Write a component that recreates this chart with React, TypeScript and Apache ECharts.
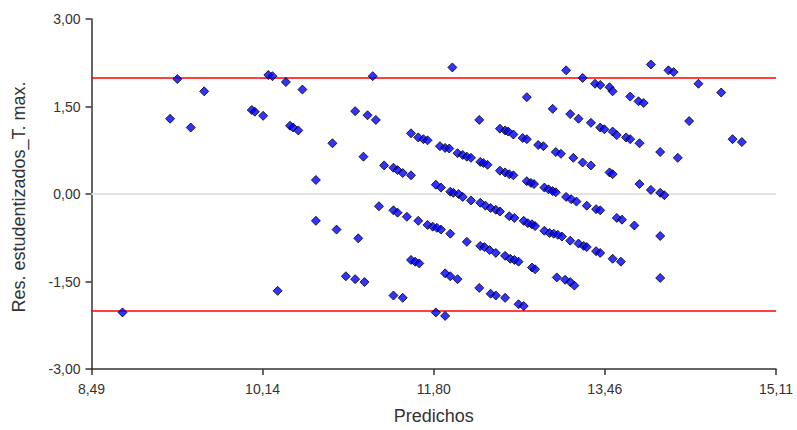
import React, { useEffect, useRef } from "react";
import * as echarts from "echarts";

const xTickValues = [8.49, 10.145, 11.8, 13.455, 15.11];
const xTickLabels = ["8,49", "10,14", "11,80", "13,46", "15,11"];
const yTickValues = [-3, -1.5, 0, 1.5, 3];
const refLinesRed = [2, -2];
const refLineZero = 0;
const xName = "Predichos";
const yName = "Res. estudentizados_T. max.";

// Predichos
const predichos = [
  8.79, 9.25, 9.32, 9.45, 9.58, 10.04, 10.07, 10.15,
  10.2, 10.24, 10.37, 10.53, 10.41, 10.44, 10.49, 10.82, 10.66,
  11.21, 11.04, 11.16, 11.24, 11.12, 11.32, 11.41, 11.45, 11.5, 11.58,
  11.58, 11.65, 11.7, 11.74,
  10.29, 10.66, 10.86, 11.07, 10.95, 11.04, 11.13,
  11.98, 13.08, 13.24, 13.36, 13.41, 12.7, 12.95, 13.12, 13.2,
  13.32, 13.41, 13.45, 12.24, 12.44, 12.49, 12.52, 12.57, 12.66, 12.7,
  12.81, 12.86, 12.98, 13.03, 13.15, 13.24, 13.32,
  11.86, 11.91, 11.95, 12.03, 12.08, 12.12, 12.16, 12.25, 12.28, 12.32,
  12.44, 12.49, 12.53, 12.57, 12.7, 12.74, 12.77,
  12.87, 12.91, 12.95, 12.98, 13.08, 13.13, 13.18, 13.28, 13.37, 13.41,
  13.57, 13.62, 13.74, 13.99,
  11.82, 11.87, 11.96, 11.99, 12.04, 12.08, 12.16, 12.25, 12.3, 12.35,
  12.4, 12.44, 12.53, 12.58, 12.67, 12.71, 12.75, 12.78, 12.87, 12.92,
  12.96, 13.0, 13.04, 13.12, 13.2, 13.25, 13.28, 13.37, 13.41, 13.53,
  13.61, 13.99,
  11.27, 11.41, 11.45, 11.54, 11.65, 11.74, 11.79, 11.83, 11.87, 11.96,
  12.12, 12.25, 12.29, 12.34, 12.4, 12.49, 12.54, 12.58, 12.62, 12.75,
  12.78, 12.99, 13.07, 13.12, 13.16,
  11.58, 11.62, 11.66, 11.91, 11.96, 12.03, 12.24, 12.35, 12.4, 12.49,
  12.62, 12.67, 11.82, 11.91, 11.41, 11.5,
  13.9, 14.07, 14.12, 14.36, 14.58, 13.5, 13.53, 13.7, 13.78, 13.83,
  14.27, 13.53, 13.57, 13.66, 13.7, 13.79, 13.99, 14.16, 14.69, 14.78,
  13.5, 13.53, 13.79, 13.9, 13.99, 14.03,
];

// Residuos estudentizados
const residuos = [
  -2.03, 1.29, 1.97, 1.14, 1.76, 1.44, 1.41, 1.34,
  2.04, 2.02, 1.92, 1.79, 1.17, 1.14, 1.09, 0.87, 0.24,
  2.02, 1.42, 1.35, 1.27, 0.64, 0.49, 0.45, 0.41, 0.36, 0.32,
  1.04, 0.97, 0.94, 0.92,
  -1.66, -0.46, -0.61, -0.76, -1.41, -1.46, -1.51,
  2.17, 2.12, 1.99, 1.89, 1.87, 1.66, 1.46, 1.37, 1.29,
  1.22, 1.14, 1.11, 1.27, 1.12, 1.09, 1.07, 1.02, 0.96, 0.94,
  0.84, 0.82, 0.72, 0.69, 0.62, 0.54, 0.49,
  0.82, 0.79, 0.78, 0.7, 0.67, 0.64, 0.62, 0.55, 0.53, 0.5,
  0.4, 0.37, 0.34, 0.32, 0.22, 0.19, 0.17,
  0.11, 0.08, 0.05, 0.03, -0.05, -0.09, -0.13, -0.2, -0.26, -0.28,
  -0.41, -0.44, -0.54, -0.72,
  0.16, 0.11, 0.04, 0.02, 0.0, -0.05, -0.11, -0.15, -0.2, -0.24,
  -0.27, -0.3, -0.38, -0.41, -0.46, -0.5, -0.52, -0.55, -0.63, -0.67,
  -0.68, -0.7, -0.73, -0.8, -0.85, -0.89, -0.91, -0.98, -1.01, -1.11,
  -1.16, -1.44,
  -0.21, -0.28, -0.32, -0.39, -0.46, -0.53, -0.56, -0.58, -0.61, -0.68,
  -0.82, -0.89, -0.91, -0.96, -1.01, -1.06, -1.11, -1.13, -1.16, -1.26,
  -1.29, -1.43, -1.47, -1.51, -1.57,
  -1.13, -1.16, -1.19, -1.36, -1.41, -1.46, -1.61, -1.71, -1.74, -1.78,
  -1.89, -1.92, -2.03, -2.09, -1.74, -1.78,
  2.22, 2.12, 2.09, 1.89, 1.74, 1.83, 1.76, 1.67, 1.59, 1.56,
  1.25, 1.07, 1.01, 0.97, 0.94, 0.87, 0.72, 0.62, 0.94, 0.89,
  0.37, 0.34, 0.17, 0.07, 0.02, -0.02,
];

const FONT = "'Liberation Sans', Arial, sans-serif";

export default function App() {
  const ref = useRef<HTMLDivElement>(null);

  useEffect(() => {
    if (!ref.current) return;
    const chart = echarts.init(ref.current, null, { renderer: "svg" });
    const points = predichos.map((x, i) => [x, residuos[i]]);
    const fmt = (v: number) => v.toFixed(2).replace(".", ",");

    chart.setOption({
      animation: false,
      backgroundColor: "#ffffff",
      grid: { left: 91.5, right: 21, top: 19, bottom: 53, containLabel: false },
      xAxis: {
        type: "value",
        min: xTickValues[0],
        max: xTickValues[xTickValues.length - 1],
        name: xName,
        nameLocation: "middle",
        nameGap: 38,
        nameTextStyle: { fontFamily: FONT, fontSize: 18, color: "#333" },
        axisLine: { show: true, onZero: false, lineStyle: { color: "#333", width: 1.5 } },
        axisTick: {
          show: true,
          length: 6,
          customValues: xTickValues,
          lineStyle: { color: "#333", width: 1.5 },
        },
        axisLabel: {
          customValues: xTickValues,
          margin: 13,
          fontFamily: FONT,
          fontSize: 14,
          color: "#333",
          formatter: (v: number) => {
            let best = 0;
            xTickValues.forEach((t, i) => {
              if (Math.abs(t - v) < Math.abs(xTickValues[best] - v)) best = i;
            });
            return xTickLabels[best];
          },
        },
        splitLine: { show: false },
      },
      yAxis: {
        type: "value",
        min: yTickValues[0],
        max: yTickValues[yTickValues.length - 1],
        interval: 1.5,
        axisLine: { show: true, onZero: false, lineStyle: { color: "#333", width: 1.5 } },
        axisTick: { show: true, length: 6, lineStyle: { color: "#333", width: 1.5 } },
        axisLabel: {
          margin: 11,
          fontFamily: FONT,
          fontSize: 14,
          color: "#333",
          formatter: (v: number) => fmt(v),
        },
        splitLine: { show: false },
      },
      graphic: [
        {
          type: "text",
          x: 19,
          y: 197,
          rotation: Math.PI / 2,
          style: {
            text: yName,
            fontFamily: FONT,
            fontSize: 18,
            fill: "#333",
            textAlign: "center",
            textVerticalAlign: "middle",
          },
        },
      ],
      series: [
        {
          type: "line",
          data: [],
          z: 1,
          silent: true,
          markLine: {
            silent: true,
            symbol: "none",
            label: { show: false },
            data: [
              { yAxis: refLineZero, lineStyle: { color: "#e3e3e3", width: 2, type: "solid" } },
              ...refLinesRed.map((v) => ({
                yAxis: v,
                lineStyle: { color: "#ff0000", width: 1.5, type: "solid" },
              })),
            ],
          },
        },
        {
          type: "scatter",
          z: 5,
          data: points,
          symbol: "diamond",
          symbolSize: 9,
          itemStyle: { color: "#0000ff", borderColor: "#000", borderWidth: 1 },
        },
      ],
    });

    return () => chart.dispose();
  }, []);

  return (
    <div
      ref={ref}
      style={{ position: "absolute", left: 0, top: 0, width: 797, height: 430 }}
    />
  );
}
